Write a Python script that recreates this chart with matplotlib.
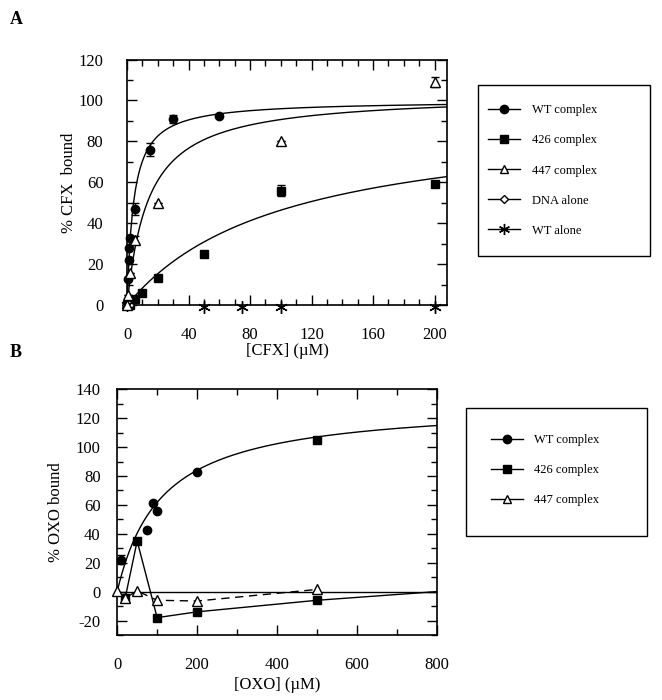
import numpy as np
import matplotlib
matplotlib.use("Agg")
import matplotlib.pyplot as plt
from matplotlib.patches import Rectangle
from matplotlib.ticker import MultipleLocator

plt.rcParams['font.family'] = ['Liberation Serif', 'DejaVu Serif']
plt.rcParams['axes.unicode_minus'] = False

# ---- panel A : CFX ----
cfx_wt_x = [0, 0.5, 1, 1.5, 2, 5, 15, 30, 60]
cfx_wt_y = [0, 13, 22, 28, 33, 47, 76, 91, 92.5]
cfx_wt_err = [0, 0, 0, 0, 0, 3, 3, 2, 0]
cfx_426_x = [0, 2, 5, 10, 20, 50, 100, 200]
cfx_426_y = [0, 0, 3, 6, 13.5, 25, 56, 59]
cfx_426_err = [0, 0, 0, 0, 0, 0, 2.5, 0]
cfx_447_x = [0, 0.5, 2, 5, 20, 100, 200]
cfx_447_y = [0, 5, 15.5, 32, 50, 80, 109]
cfx_447_err = [0, 0, 0, 2, 0, 0, 2.5]
cfx_dna_x = [0, 1]
cfx_dna_y = [0, 0]
cfx_alone_x = [0, 50, 75, 100, 200]
cfx_alone_y = [0, -1, -1, -1, -1]

# hyperbolic fits  (Bmax, Kd, start x)  WT / 426 / 447
fit_a_bmax = [100, 93.3, 103.3]
fit_a_kd = [4.2, 101, 13.9]
fit_a_x0 = [0.3, 4, 0.5]

# ---- panel B : OXO ----
oxo_wt_x = [0, 10, 75, 90, 100, 200, 500]
oxo_wt_y = [0, 22, 42.5, 61, 55.5, 82.5, 105]
oxo_wt_err = [0, 3, 0, 0, 0, 0, 2]
oxo_426_x = [0, 20, 50, 100, 200, 500, 800]
oxo_426_y = [0, -4.5, 35, -18, -14, -6, 0]
oxo_447_x = [0, 20, 50, 100, 200, 500]
oxo_447_y = [0.5, -4.5, 0.5, -6, -6.5, 1.5]
fit_b_bmax = 131
fit_b_kd = 112

def hyper(x, b, k):
    return b * x / (k + x)

def style(ax, xmaj, xmin, ymaj, ymin, ypad):
    ax.xaxis.set_major_locator(MultipleLocator(xmaj))
    ax.xaxis.set_minor_locator(MultipleLocator(xmin))
    ax.yaxis.set_major_locator(MultipleLocator(ymaj))
    ax.yaxis.set_minor_locator(MultipleLocator(ymin))
    ax.tick_params(which='both', direction='in', top=True, right=True, width=1)
    ax.tick_params(which='major', length=7)
    ax.tick_params(which='minor', length=4)
    ax.tick_params(axis='x', which='major', pad=16, labelsize=12)
    ax.tick_params(axis='y', which='major', pad=ypad, labelsize=12)
    for s in ax.spines.values():
        s.set_linewidth(1.2)

fig = plt.figure(figsize=(6.62, 7.0), dpi=100)

# ================= A =================
ax = fig.add_axes([0.192, 0.564, 0.483, 0.351])
ax.set_xlim(0, 208)
ax.set_ylim(0, 120)
lw = 1.0
for b, k, x0 in zip(fit_a_bmax, fit_a_kd, fit_a_x0):
    xs = np.linspace(x0, 208, 400)
    ax.plot(xs, hyper(xs, b, k), color='black', lw=lw)

ax.errorbar(cfx_wt_x, cfx_wt_y, yerr=cfx_wt_err, fmt='o', color='black', ms=6,
            capsize=3, elinewidth=1, clip_on=False, zorder=3)
ax.errorbar(cfx_426_x, cfx_426_y, yerr=cfx_426_err, fmt='s', color='black', ms=6,
            capsize=3, elinewidth=1, clip_on=False, zorder=3)
ax.errorbar(cfx_447_x, cfx_447_y, yerr=cfx_447_err, fmt='^', mfc='white', mec='black',
            ecolor='black', ms=7, capsize=3, elinewidth=1, clip_on=False, zorder=4)
ax.plot(cfx_dna_x, cfx_dna_y, 'D', mfc='white', mec='black', ms=5, clip_on=False, zorder=4)
ax.plot(cfx_alone_x, cfx_alone_y, ls='none', marker=(6, 2, 0), color='black', ms=9,
        mew=1, clip_on=False, zorder=4)
style(ax, 40, 10, 20, 10, 17)
ax.set_xlabel('[CFX] (µM)', fontsize=12, labelpad=0)
ax.set_ylabel('% CFX  bound', fontsize=12, labelpad=1)

# legend A
fig.patches.append(Rectangle((0.722, 0.634), 0.260, 0.245, transform=fig.transFigure,
                             fill=False, ec='black', lw=1.0))
hA = [
    plt.Line2D([], [], color='black', lw=1, marker='o', ms=6),
    plt.Line2D([], [], color='black', lw=1, marker='s', ms=6),
    plt.Line2D([], [], color='black', lw=1, marker='^', mfc='white', ms=6),
    plt.Line2D([], [], color='black', lw=1, marker='D', mfc='white', ms=4.5),
    plt.Line2D([], [], color='black', lw=1, marker=(6, 2, 0), ms=8),
]
fig.legend(hA, ['WT complex', '426 complex', '447 complex', 'DNA alone', 'WT alone'],
           loc='upper left', bbox_to_anchor=(0.737, 0.851), frameon=False,
           fontsize=9, handlelength=2.6, labelspacing=1.45, handletextpad=0.9,
           borderpad=0, borderaxespad=0)

# ================= B =================
bx = fig.add_axes([0.177, 0.0929, 0.483, 0.351])
bx.set_xlim(0, 800)
bx.set_ylim(-30, 140)
bx.axhline(0, color='black', lw=lw)
xs = np.linspace(0, 800, 400)
bx.plot(xs, hyper(xs, fit_b_bmax, fit_b_kd), color='black', lw=lw)
bx.plot(oxo_426_x, oxo_426_y, color='black', lw=lw, marker='s', ms=6,
        markevery=[1, 2, 3, 4, 5], zorder=3)
bx.plot(oxo_447_x, oxo_447_y, color='black', lw=lw, ls=(0, (6, 4)), marker='^',
        mfc='white', ms=7, clip_on=False, zorder=4)
bx.errorbar(oxo_wt_x[1:-1], oxo_wt_y[1:-1], yerr=oxo_wt_err[1:-1], fmt='o', color='black',
            ms=6, capsize=3, elinewidth=1, zorder=3)
bx.errorbar(oxo_wt_x[-1:], oxo_wt_y[-1:], yerr=oxo_wt_err[-1:], fmt='s', color='black',
            ms=6, capsize=3, elinewidth=1, zorder=3)
style(bx, 200, 100, 20, 10, 12)
bx.set_xlabel('[OXO] (µM)', fontsize=12, labelpad=3)
bx.set_ylabel('% OXO bound', fontsize=12, labelpad=8)

fig.patches.append(Rectangle((0.704, 0.234), 0.273, 0.183, transform=fig.transFigure,
                             fill=False, ec='black', lw=1.0))
hB = hA[:3]
fig.legend(hB, ['WT complex', '426 complex', '447 complex'],
           loc='upper left', bbox_to_anchor=(0.741, 0.380), frameon=False,
           fontsize=9, handlelength=2.6, labelspacing=1.45, handletextpad=0.9,
           borderpad=0, borderaxespad=0)

fig.text(0.015, 0.972, 'A', fontsize=13, fontweight='bold', va='center')
fig.text(0.015, 0.497, 'B', fontsize=13, fontweight='bold', va='center')

fig.savefig('out.png', dpi=100)
